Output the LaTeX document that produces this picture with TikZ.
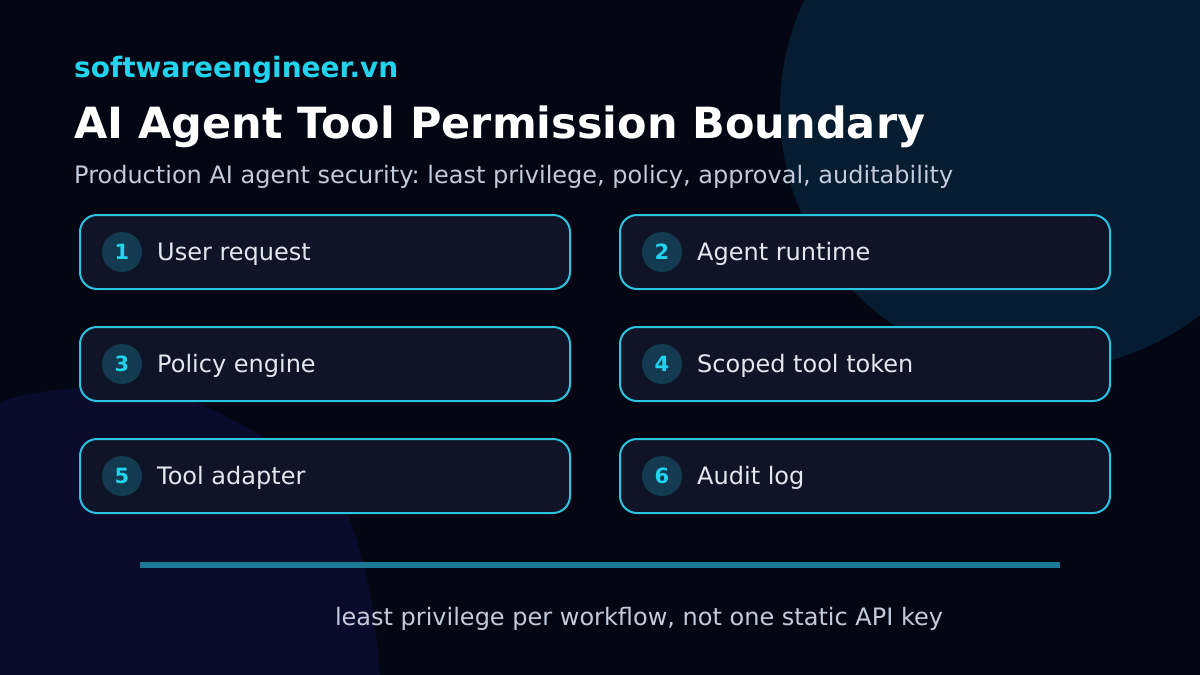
\documentclass[tikz,border=0pt]{standalone}
\usepackage{fontspec}
\setmainfont{DejaVu Sans}
\frenchspacing
\definecolor{bg}{HTML}{040713}
\definecolor{blobA}{HTML}{061D31}
\definecolor{blobB}{HTML}{0A0B2C}
\definecolor{boxfill}{HTML}{0F1526}
\definecolor{boxline}{HTML}{2CC3E0}
\definecolor{numfill}{HTML}{133A50}
\definecolor{cyan}{HTML}{22D3EE}
\definecolor{boxtext}{HTML}{E2E8F0}
\definecolor{subtext}{HTML}{C3CADB}
\definecolor{rule}{HTML}{1B7A96}
\begin{document}
\begin{tikzpicture}[x=1pt,y=-1pt,
  stepbox/.style={draw=boxline, line width=2pt, fill=boxfill, rounded corners=17pt,
    minimum width=490pt, minimum height=74pt, inner sep=0pt},
  numdot/.style={circle, fill=numfill, minimum size=40pt, inner sep=0pt,
    text=cyan, font=\fontsize{21}{24}\selectfont\bfseries},
  steplabel/.style={anchor=base west, inner sep=0pt, text=boxtext,
    font=\fontsize{24}{28}\selectfont}]
\useasboundingbox (0,0) rectangle (1200,675);
\fill[bg] (0,0) rectangle (1200,675);
% background blobs
\begin{scope}
\clip (0,0) rectangle (1200,675);
\fill[blobA] (1040,110) circle (260);
\fill[blobB] (0,675) -- (0,402) .. controls (30,392) and (60,388) .. (100,388)
  .. controls (170,388) and (200,402) .. (233,420)
  .. controls (290,450) and (335,485) .. (350,520)
  .. controls (365,560) and (375,610) .. (380,675) -- cycle;
\end{scope}
% header
\node[anchor=base west, inner sep=0pt, text=cyan, font=\fontsize{28}{32}\selectfont\bfseries] (site) at (74,77) {softwareengineer.vn};
\node[anchor=base west, inner sep=0pt, text=white, font=\fontsize{43}{50}\selectfont\bfseries] (title) at (74,138) {AI Agent Tool Permission Boundary};
\node[anchor=base west, inner sep=0pt, text=subtext, font=\fontsize{24}{28}\selectfont] (sub) at (74,183) {Production AI agent security: least privilege, policy, approval, auditability};
% steps
\foreach \n/\cx/\cy/\t in {1/325/252/User request, 2/865/252/Agent runtime,
  3/325/364/Policy engine, 4/865/364/Scoped tool token,
  5/325/476/Tool adapter, 6/865/476/Audit log}{
  \node[stepbox] (box\n) at (\cx,\cy) {};
  \node[numdot] (num\n) at ([xshift=43pt]box\n.west) {\n};
  \node[steplabel] (lab\n) at ([xshift=78pt, yshift=-8.5pt]box\n.west) {\t};
}
% bottom rule and caption
\coordinate (r1) at (140,565);
\coordinate (r2) at (1060,565);
\draw[rule, line width=6pt] (r1) -- (r2);
\node[anchor=base, inner sep=0pt, text=subtext, font=\fontsize{24}{28}\selectfont] (cap) at (639,625) {least privilege per workflow, not one static API key};
\end{tikzpicture}
\end{document}
